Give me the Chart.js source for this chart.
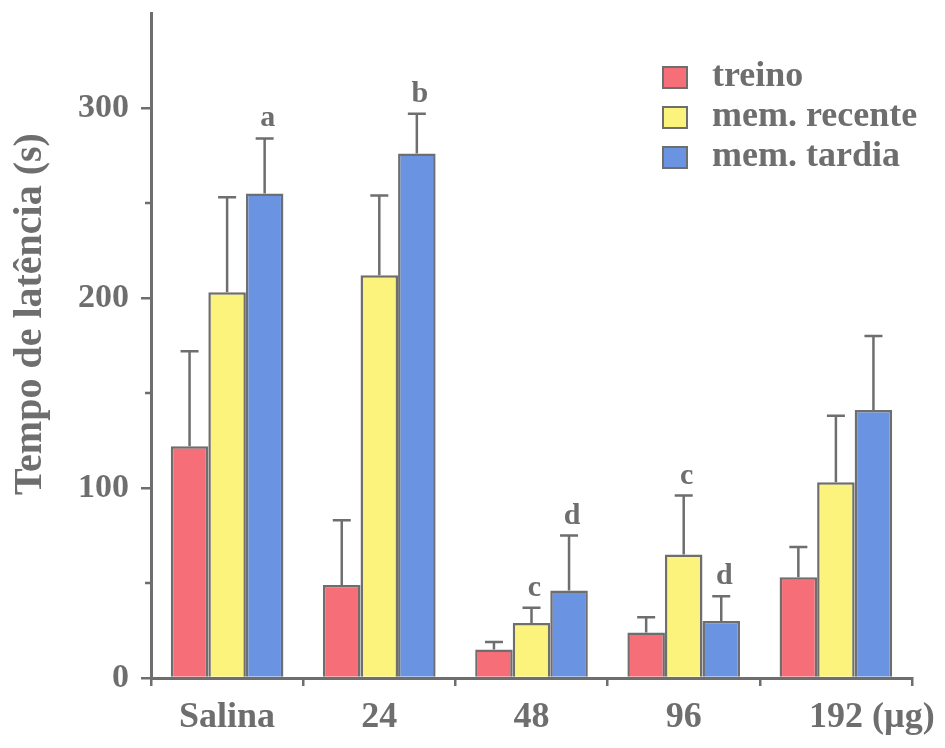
<!DOCTYPE html>
<html>
<head>
<meta charset="utf-8">
<title>Tempo de latência</title>
<script src="https://cdn.jsdelivr.net/npm/chart.js@4.4.0/dist/chart.umd.min.js"></script>
<style>
  html, body { margin: 0; padding: 0; background: #fff; }
  #chart { display: block; }
</style>
</head>
<body>
<canvas id="chart" width="945" height="748"></canvas>
<script>
// doses on the x axis
var doses = ['Salina', '24', '48', '96', '192'];
var doseUnit = '(µg)';

// latency means (s) and their error (upper half only)
var treino = [122, 49, 15, 24, 53];
var treinoErr = [50, 34, 4, 8, 16];
var recente = [203, 212, 29, 65, 103];
var recenteErr = [50, 42, 8, 31, 35];
var tardia = [255, 276, 46, 30, 141];
var tardiaErr = [29, 21, 29, 13, 39];

// significance letters over the bars
var treinoSig = ['', '', '', '', ''];
var recenteSig = ['', '', 'c', 'c', ''];
var tardiaSig = ['a', 'b', 'd', 'd', ''];

var yMajor = [0, 100, 200, 300];
var yMinor = [50, 150, 250];

var GRAY = '#6e6e6e';
var FONT = '"Liberation Serif", "Times New Roman", serif';
var X_FONT = 36;

// error bars + letters
var errorBars = {
  id: 'errorBars',
  afterDatasetsDraw: function(chart) {
    var ctx = chart.ctx, y = chart.scales.y;
    ctx.save();
    ctx.strokeStyle = GRAY;
    ctx.lineWidth = 2.5;
    ctx.fillStyle = GRAY;
    ctx.font = 'bold 30px ' + FONT;
    ctx.textAlign = 'center';
    ctx.textBaseline = 'alphabetic';
    chart.data.datasets.forEach(function(ds, i) {
      var meta = chart.getDatasetMeta(i);
      meta.data.forEach(function(bar, j) {
        var top = y.getPixelForValue(ds.data[j] + ds.errors[j]);
        ctx.beginPath();
        ctx.moveTo(bar.x, bar.y);
        ctx.lineTo(bar.x, top);
        ctx.moveTo(bar.x - 9, top);
        ctx.lineTo(bar.x + 9, top);
        ctx.stroke();
        if (ds.sig[j]) {
          ctx.fillText(ds.sig[j], bar.x + 3, top - 12);
        }
      });
    });
    ctx.restore();
  }
};

// minor y ticks, axis title, unit after last dose, legend
var decorations = {
  id: 'decorations',
  afterDraw: function(chart) {
    var ctx = chart.ctx, y = chart.scales.y, x = chart.scales.x;
    var left = chart.chartArea.left;
    ctx.save();
    ctx.strokeStyle = GRAY;
    ctx.lineWidth = 2.5;
    yMinor.forEach(function(v) {
      var py = y.getPixelForValue(v);
      ctx.beginPath();
      ctx.moveTo(left - 6, py);
      ctx.lineTo(left, py);
      ctx.stroke();
    });

    ctx.fillStyle = GRAY;
    ctx.font = 'bold 40px ' + FONT;
    ctx.textAlign = 'center';
    ctx.textBaseline = 'middle';
    ctx.translate(31, 314);
    ctx.rotate(-Math.PI / 2);
    ctx.fillText('Tempo de latência (s)', 0, 0);
    ctx.setTransform(1, 0, 0, 1, 0, 0);

    ctx.font = 'bold ' + X_FONT + 'px ' + FONT;
    ctx.textAlign = 'left';
    ctx.textBaseline = 'middle';
    var last = doses.length - 1;
    var ux = x.getPixelForValue(last) + ctx.measureText(doses[last]).width / 2 + ctx.measureText(' ').width;
    ctx.fillText(doseUnit, ux, x.top + 8 + 10 + X_FONT * 1.2 / 2);

    chart.data.datasets.forEach(function(ds, i) {
      var cy = 77 + i * 40;
      ctx.fillStyle = ds.backgroundColor;
      ctx.fillRect(663, cy - 10, 24, 21);
      ctx.lineWidth = 2;
      ctx.strokeRect(663, cy - 10, 24, 21);
      ctx.fillStyle = GRAY;
      ctx.fillText(ds.label, 712, cy);
    });
    ctx.restore();
  }
};

new Chart(document.getElementById('chart'), {
  type: 'bar',
  data: {
    labels: doses,
    datasets: [
      { label: 'treino', data: treino, errors: treinoErr, sig: treinoSig,
        backgroundColor: '#f56e78', borderColor: GRAY, borderWidth: 2.5 },
      { label: 'mem. recente', data: recente, errors: recenteErr, sig: recenteSig,
        backgroundColor: '#fbf37c', borderColor: GRAY, borderWidth: 2.5 },
      { label: 'mem. tardia', data: tardia, errors: tardiaErr, sig: tardiaSig,
        backgroundColor: '#6a94e2', borderColor: GRAY, borderWidth: 2.5 }
    ]
  },
  options: {
    responsive: false,
    animation: false,
    layout: { padding: { top: 13, right: 33, left: 0, bottom: 0 } },
    plugins: {
      legend: { display: false },
      tooltip: { enabled: false }
    },
    datasets: {
      bar: { categoryPercentage: 0.74, barPercentage: 1.0 }
    },
    scales: {
      x: {
        afterFit: function(s) { s.height = 70; },
        border: { display: true, color: GRAY, width: 3 },
        grid: { display: true, drawOnChartArea: false, drawTicks: true, tickLength: 8,
                offset: true, color: GRAY, tickColor: GRAY, lineWidth: 2.5 },
        ticks: { color: GRAY, padding: 10, font: { family: FONT, size: X_FONT, weight: 'bold' } }
      },
      y: {
        min: 0,
        max: 350,
        afterFit: function(s) {
          s.width = 151;
          s.paddingTop = 0;
          s.paddingBottom = 0;
        },
        afterBuildTicks: function(s) {
          s.ticks = yMajor.map(function(v) { return { value: v }; });
        },
        border: { display: true, color: GRAY, width: 3 },
        grid: { display: true, drawOnChartArea: false, drawTicks: true, tickLength: 10,
                color: GRAY, tickColor: GRAY, lineWidth: 2.5 },
        ticks: { color: GRAY, padding: 12, font: { family: FONT, size: 34, weight: 'bold' } }
      }
    }
  },
  plugins: [errorBars, decorations]
});
</script>
</body>
</html>
